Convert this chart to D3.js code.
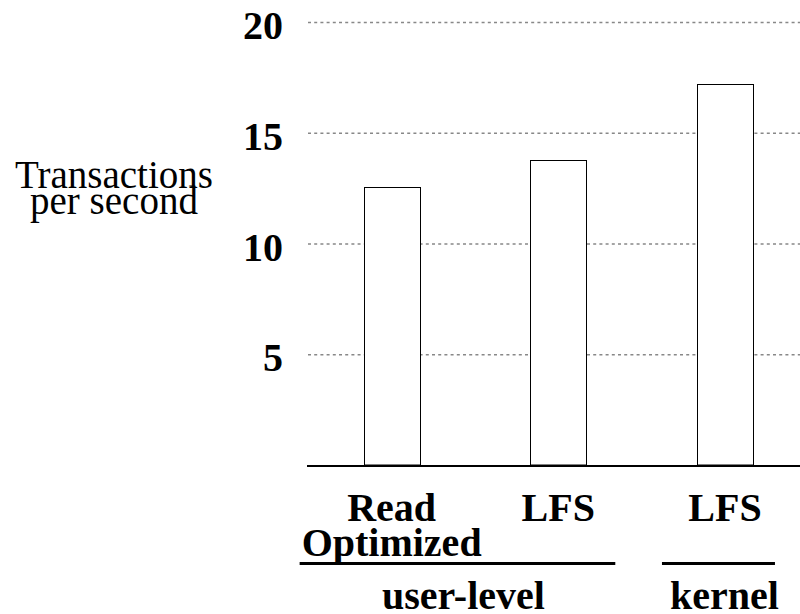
<!DOCTYPE html>
<html>
<head>
<meta charset="utf-8">
<script src="https://cdn.jsdelivr.net/npm/d3@7"></script>
<style>
  html, body { margin: 0; padding: 0; background: #fff; }
  svg { display: block; }
</style>
</head>
<body>
<svg id="chart" width="800" height="614"></svg>
<script>
// ---- data ----
const categories = ["Read Optimized", "LFS (user)", "LFS (kernel)"];
const categoryLabels = [["Read", "Optimized"], ["LFS"], ["LFS"]];
const values = [12.55, 13.77, 17.2];
const yTicks = [5, 10, 15, 20];
const groups = ["user-level", "kernel"];
const groupMembers = [[0, 1], [2]];
const yTitle = ["Transactions", "per second"];

// ---- layout ----
const W = 800, H = 614;
const svg = d3.select("#chart");
const serif = "'Liberation Serif', 'Times New Roman', Times, serif";

const y = d3.scaleLinear().domain([0, 20]).range([465, 22]);
const x = d3.scaleBand().domain(categories).range([308.3, 808.3])
  .paddingInner(0.664).paddingOuter(0.332);

// gridlines
const grid = svg.append("g").attr("class", "grid")
  .attr("transform", "translate(308,0)")
  .call(d3.axisLeft(y).tickValues(yTicks).tickSize(-(W - 308)).tickFormat(""));
grid.select(".domain").remove();
grid.selectAll(".tick line")
  .attr("stroke", "#888").attr("stroke-width", 1.3)
  .attr("stroke-dasharray", "3,3.2");

// y tick labels
svg.append("g").selectAll("text").data(yTicks).join("text")
  .attr("x", 283).attr("y", d => y(d) + 17)
  .attr("text-anchor", "end")
  .attr("font-family", serif).attr("font-weight", "bold").attr("font-size", 40)
  .attr("fill", "#000")
  .text(d => d);

// bars
svg.append("g").selectAll("rect").data(values).join("rect")
  .attr("x", (d, i) => Math.round(x(categories[i])) + 0.5)
  .attr("y", d => Math.round(y(d)) + 0.5)
  .attr("width", Math.round(x.bandwidth()))
  .attr("height", d => y(0) - Math.round(y(d)) - 0.5)
  .attr("fill", "#fff").attr("stroke", "#000").attr("stroke-width", 1);

// baseline
svg.append("line")
  .attr("x1", 307).attr("x2", W)
  .attr("y1", y(0) + 1).attr("y2", y(0) + 1)
  .attr("stroke", "#000").attr("stroke-width", 2.2);

// category labels
const catG = svg.append("g");
categoryLabels.forEach((lines, i) => {
  const cx = x(categories[i]) + x.bandwidth() / 2;
  lines.forEach((t, j) => {
    catG.append("text")
      .attr("x", cx).attr("y", 521 + j * 35)
      .attr("text-anchor", "middle")
      .attr("font-family", serif).attr("font-weight", "bold").attr("font-size", 40)
      .attr("fill", "#000")
      .text(t);
  });
});

// group brackets
const groupExtent = [[-64, 29], [-35, 22]];
const groupLabelShift = [6, 6];
const gG = svg.append("g");
groups.forEach((g, k) => {
  const mem = groupMembers[k];
  const x0 = x(categories[mem[0]]) + groupExtent[k][0];
  const x1 = x(categories[mem[mem.length - 1]]) + x.bandwidth() + groupExtent[k][1];
  gG.append("line")
    .attr("x1", x0).attr("x2", x1).attr("y1", 563.5).attr("y2", 563.5)
    .attr("stroke", "#000").attr("stroke-width", 3);
  gG.append("text")
    .attr("x", (x0 + x1) / 2 + groupLabelShift[k]).attr("y", 609)
    .attr("text-anchor", "middle")
    .attr("font-family", serif).attr("font-weight", "bold").attr("font-size", 40)
    .attr("fill", "#000")
    .text(g);
});

// y title
svg.append("g").selectAll("text").data(yTitle).join("text")
  .attr("x", 114).attr("y", (d, i) => 188 + i * 25.5)
  .attr("text-anchor", "middle")
  .attr("font-family", serif).attr("font-size", 39)
  .attr("fill", "#000")
  .text(d => d);
</script>
</body>
</html>
